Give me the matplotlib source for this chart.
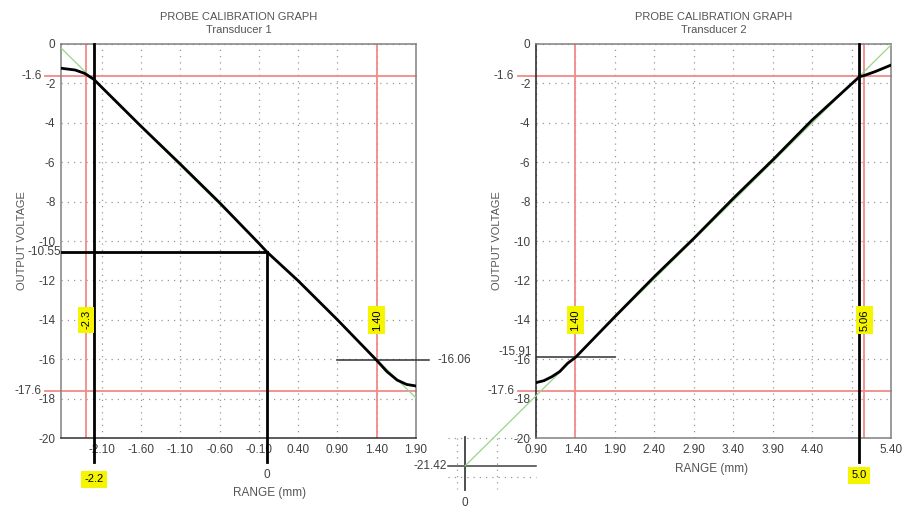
import numpy as np
import matplotlib.pyplot as plt

plt.rcParams['font.family'] = ['Liberation Sans', 'DejaVu Sans']
plt.rcParams['font.size'] = 8

# Transducer 1 calibration curve
t1_range = [-2.62, -2.44, -2.32, -2.20, -2.10, -1.60, -1.10, -0.60, -0.10, 0.00,
            0.40, 0.90, 1.40, 1.53, 1.66, 1.78, 1.90]
t1_volts = [-1.23, -1.32, -1.49, -1.80, -2.20, -4.18, -6.10, -8.06, -10.12, -10.55,
            -12.02, -14.00, -16.06, -16.63, -17.06, -17.28, -17.36]
t1_fit_range = [-2.62, 1.90]
t1_fit_volts = [-0.20, -17.97]
t1_ticks = [-2.10, -1.60, -1.10, -0.60, -0.10, 0.40, 0.90, 1.40, 1.90]
t1_limits_x = [-2.3, 1.40]
t1_point_x = -2.2
t1_zero_volts = -10.55
t1_end_volts = -16.06

# Transducer 2 calibration curve
t2_range = [0.90, 1.00, 1.10, 1.20, 1.30, 1.40, 1.90, 2.40, 2.90, 3.40, 3.90,
            4.40, 5.00, 5.06, 5.20, 5.40]
t2_volts = [-17.19, -17.09, -16.89, -16.63, -16.21, -15.91, -13.84, -11.81, -9.87,
            -7.84, -5.89, -3.86, -1.66, -1.60, -1.40, -1.07]
t2_fit_range = [0.00, 5.40]
t2_fit_volts = [-21.42, -0.05]
t2_ticks = [0.90, 1.40, 1.90, 2.40, 2.90, 3.40, 3.90, 4.40, 4.90, 5.40]
t2_tick_labels = ['0.90', '1.40', '1.90', '2.40', '2.90', '3.40', '3.90', '4.40', '', '5.40']
t2_limits_x = [1.40, 5.06]
t2_point_x = 5.0
t2_start_volts = -15.91

volt_limits = [-1.6, -17.6]
y_ticks = [0, -2, -4, -6, -8, -10, -12, -14, -16, -18, -20]

W, H = 912, 509
fig = plt.figure(figsize=(W / 100, H / 100), dpi=100)
fig.patch.set_facecolor('white')

RED = '#f08a8a'
GREEN = '#9ad48a'
TXT = '#404040'
YEL = dict(boxstyle='square,pad=0.3', fc='#f5f500', ec='none')


def setup(ax, xlim, ticks, labels, title):
    ax.set_xlim(xlim)
    ax.set_ylim(-20, 0)
    ax.set_xticks(ticks)
    ax.set_xticklabels(labels)
    ax.set_yticks(y_ticks)
    ax.set_yticklabels([str(v) for v in y_ticks])
    ax.tick_params(length=0, pad=4, labelsize=8.5, colors=TXT)
    ax.grid(True, linestyle=(0, (1, 4)), color='#999999', lw=0.9)
    for s in ax.spines.values():
        s.set_color('#808080')
        s.set_linewidth(1.1)
    ax.set_title('PROBE CALIBRATION GRAPH\n' + title,
                 fontsize=8, color='#555555', pad=8, linespacing=1.3)


def side_label(ax, text, y, dx, dy=0):
    ax.annotate(text, xy=(0, y), xycoords=('axes fraction', 'data'),
                xytext=(dx, dy), textcoords='offset pixels',
                ha='right', va='center', fontsize=8.5, color=TXT)


# ---- left chart ----
ax1 = fig.add_axes([61 / W, 1 - 438 / H, 355 / W, 394 / H])
setup(ax1, (-2.62, 1.90), t1_ticks, ['%.2f' % t for t in t1_ticks], 'Transducer 1')
ax1.spines['bottom'].set_color('#303030')

for x in t1_limits_x:
    ax1.axvline(x, color=RED, lw=1.3, zorder=2)
for v in volt_limits:
    ax1.axhline(v, xmin=-0.045, xmax=1, color=RED, lw=1.3, clip_on=False, zorder=2)
    side_label(ax1, '%.1f' % v, v, -19)

ax1.plot(t1_fit_range, t1_fit_volts, color=GREEN, lw=0.9, zorder=3)
ax1.plot(t1_range, t1_volts, color='black', lw=2, zorder=5)

ax1.axvline(t1_point_x, ymin=-0.06, ymax=1, color='black', lw=2, clip_on=False, zorder=4)
ax1.plot([-2.62, 0], [t1_zero_volts, t1_zero_volts], color='black', lw=2, zorder=4)
ax1.plot([0, 0], [t1_zero_volts, -21.2], color='black', lw=2, clip_on=False, zorder=4)
ax1.plot([0.90, 2.06], [t1_end_volts, t1_end_volts], color='#303030', lw=1.1,
         clip_on=False, zorder=4)
side_label(ax1, '%.2f' % t1_zero_volts, t1_zero_volts, 0)
ax1.text(2.18, t1_end_volts, '%.2f' % t1_end_volts, ha='left', va='center',
         fontsize=8.5, color=TXT, clip_on=False)

ax1.text(-2.3, -14, '-2.3', rotation=90, ha='center', va='center', bbox=YEL, zorder=6)
ax1.text(1.40, -14, '1.40', rotation=90, ha='center', va='center', bbox=YEL, zorder=6)
ax1.text(t1_point_x, -22.1, '-2.2', ha='center', va='center', bbox=YEL, clip_on=False)
ax1.text(0, -21.9, '0', ha='center', va='center', fontsize=8.5, color=TXT, clip_on=False)
ax1.set_ylabel('OUTPUT VOLTAGE', fontsize=8, color='#555555', labelpad=8)
fig.text(270 / W, 1 - 493 / H, 'RANGE (mm)', ha='center', va='center',
         fontsize=8.5, color='#555555')

# ---- right chart ----
ax2 = fig.add_axes([536 / W, 1 - 438 / H, 355 / W, 394 / H])
setup(ax2, (0.90, 5.40), t2_ticks, t2_tick_labels, 'Transducer 2')
ax2.spines['left'].set_color('#202020')

for x in t2_limits_x:
    ax2.axvline(x, color=RED, lw=1.3, zorder=2)
for v in volt_limits:
    ax2.axhline(v, xmin=-0.05, xmax=1, color=RED, lw=1.3, clip_on=False, zorder=2)
    side_label(ax2, '%.1f' % v, v, -22)

# small crosshair below-left showing the fit intercept at zero range
for gy in [-20, -22]:
    ax2.plot([-0.21, 0.90], [gy, gy], linestyle=(0, (1, 4)), color='#999999', lw=0.9,
             clip_on=False)
for gx in [-0.10, 0.40]:
    ax2.plot([gx, gx], [-20, -22.6], linestyle=(0, (1, 4)), color='#999999', lw=0.9,
             clip_on=False)
ax2.plot([0, 0], [-19.95, -22.65], color='#404040', lw=1.3, clip_on=False)
ax2.plot([-0.21, 0.90], [t2_fit_volts[0], t2_fit_volts[0]], color='#404040', lw=1.1,
         clip_on=False)
ax2.text(-0.23, t2_fit_volts[0], '%.2f' % t2_fit_volts[0], ha='right', va='center',
         fontsize=8.5, color=TXT, clip_on=False)
ax2.text(0, -23.3, '0', ha='center', va='center', fontsize=8.5, color=TXT, clip_on=False)

ax2.plot(t2_fit_range, t2_fit_volts, color=GREEN, lw=0.9, clip_on=False, zorder=3)
ax2.plot(t2_range, t2_volts, color='black', lw=2, zorder=5)

ax2.axvline(t2_point_x, ymin=-0.06, ymax=1, color='black', lw=2, clip_on=False, zorder=4)
ax2.plot([0.90, 1.90], [t2_start_volts, t2_start_volts], color='#303030', lw=1.1, zorder=4)
side_label(ax2, '%.2f' % t2_start_volts, t2_start_volts, -4, dy=5)

ax2.text(1.40, -14, '1.40', rotation=90, ha='center', va='center', bbox=YEL, zorder=6)
ax2.text(5.06, -14, '5.06', rotation=90, ha='center', va='center', bbox=YEL, zorder=6)
ax2.text(t2_point_x, -21.9, '5.0', ha='center', va='center', bbox=YEL, clip_on=False)
ax2.set_ylabel('OUTPUT VOLTAGE', fontsize=8, color='#555555', labelpad=8)
fig.text(712 / W, 1 - 469 / H, 'RANGE (mm)', ha='center', va='center',
         fontsize=8.5, color='#555555')

fig.savefig('out.png', dpi=100)
